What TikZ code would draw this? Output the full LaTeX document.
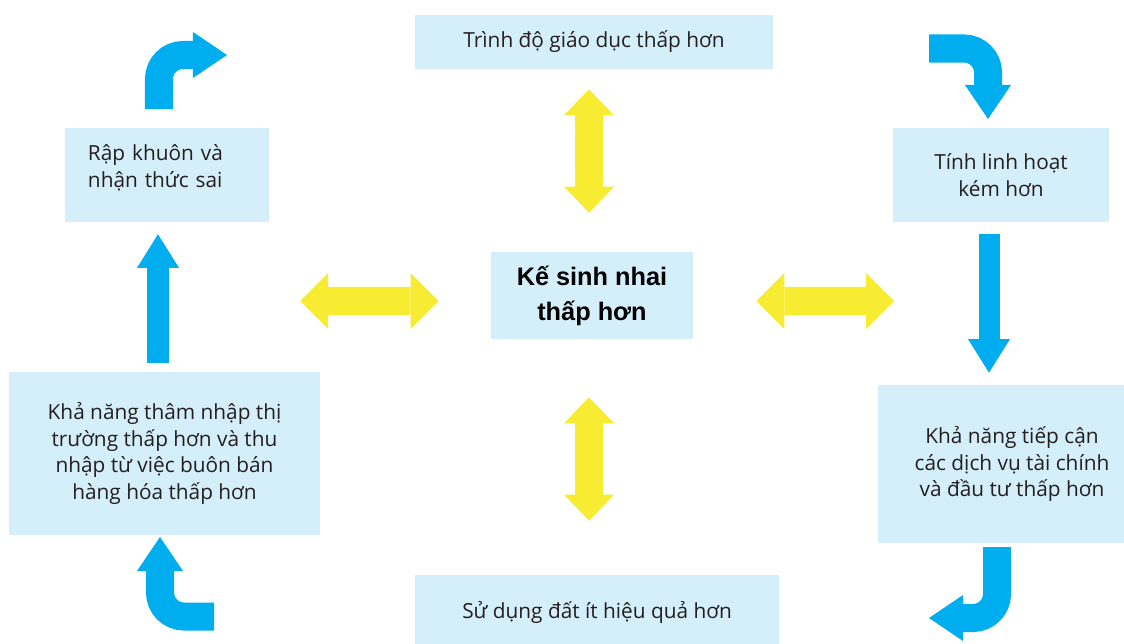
\documentclass[tikz,border=0pt]{standalone}
\usepackage{fontspec}
\setmainfont{Open Sans}
\newfontfamily\boldsans{Liberation Sans}
\usepackage{tikz}
\usetikzlibrary{arrows.meta, calc}
\definecolor{boxBlue}{HTML}{D4EEFA}
\definecolor{arrBlue}{HTML}{00AEEF}
\definecolor{arrYellow}{HTML}{F8EC33}
\definecolor{txtDark}{HTML}{231F20}

\begin{document}
\begin{tikzpicture}[
  x=0.025cm, y=-0.025cm,
  every node/.style={font=\fontsize{14.8}{18.8}\selectfont, text=txtDark},
  box/.style={fill=boxBlue, align=center, inner sep=2pt},
  yarrv/.style={arrYellow, line width=0.7cm,
                {Triangle[length=0.65cm, width=1.25cm, line width=0pt]}-{Triangle[length=0.65cm, width=1.25cm, line width=0pt]}},
  yarrh/.style={arrYellow, line width=0.7cm,
                {Triangle[length=0.7cm, width=1.4cm, line width=0pt]}-{Triangle[length=0.7cm, width=1.4cm, line width=0pt]}},
  barr/.style={arrBlue, line width=0.525cm, -{Triangle[length=0.84cm, width=1.05cm, line width=0pt]}},
  carr/.style={arrBlue, line width=0.7cm, rounded corners=0.6cm,
               -{Triangle[length=0.85cm, width=1.15cm, line width=0pt]}}
]
\useasboundingbox (0,0) rectangle (1124,644);

\node[box, minimum width=8.95cm, minimum height=1.35cm] (edu) at (594,42) {Trình độ giáo dục thấp hơn};
\node[box, minimum width=5.1cm, minimum height=2.35cm, text width=3.95cm, inner xsep=0.575cm, align=left] (stereo) at (167,175) {Rập khuôn và\\ nhận thức sai\rule[-0.45cm]{0pt}{0.45cm}};
\node[box, minimum width=5.4cm, minimum height=2.35cm] (flex) at (1001,175) {Tính linh hoạt\\ kém hơn};
\node[box, minimum width=5.05cm, minimum height=2.175cm, text=black,
      font=\boldsans\bfseries\fontsize{18}{25}\selectfont] (live) at (592,295.5) {Kế sinh nhai\\ thấp hơn};
\node[box, minimum width=7.775cm, minimum height=4.075cm] (market) at (164.5,453.5) {Khả năng thâm nhập thị\\ trường thấp hơn và thu\\ nhập từ việc buôn bán\\ hàng hóa thấp hơn};
\node[box, minimum width=6.7cm, minimum height=3.95cm] (finance) at (1012,464) {Khả năng tiếp cận\\ các dịch vụ tài chính\\ và đầu tư thấp hơn};
\node[box, minimum width=9.075cm, minimum height=1.85cm] (land) at (597,612) {Sử dụng đất ít hiệu quả hơn};

\coordinate (lw) at (300,301);
\coordinate (rw) at (894,301);
\draw[yarrv] ($(edu.south)+(-5,20)$) -- ($(live.north)+(-3,-39)$);
\draw[yarrv] ($(live.south)+(-3,58)$) -- ($(land.north)+(-8,-54)$);
\draw[yarrh] ($(live.west)+(-52,5.5)$) -- (lw);
\draw[yarrh] ($(live.east)+(63,5.5)$) -- (rw);

\draw[barr] ($(market.north)+(-6.5,-9)$) -- ($(stereo.south)+(-9,12)$);
\draw[barr] ($(flex.south)+(-12,12)$) -- ($(finance.north)+(-23,-12)$);

\coordinate (tl) at (159,109);
\coordinate (tlend) at (227,55);
\coordinate (tr) at (929,48.5);
\coordinate (trend) at (988,119);
\coordinate (br) at (997,547);
\coordinate (brend) at (929,618);
\coordinate (bl) at (214,616.5);
\coordinate (blend) at (160,537);
\draw[carr] (tl) |- (tlend);
\draw[carr] (tr) -| (trend);
\draw[carr] (br) |- (brend);
\draw[carr] (bl) -| (blend);
\end{tikzpicture}
\end{document}
